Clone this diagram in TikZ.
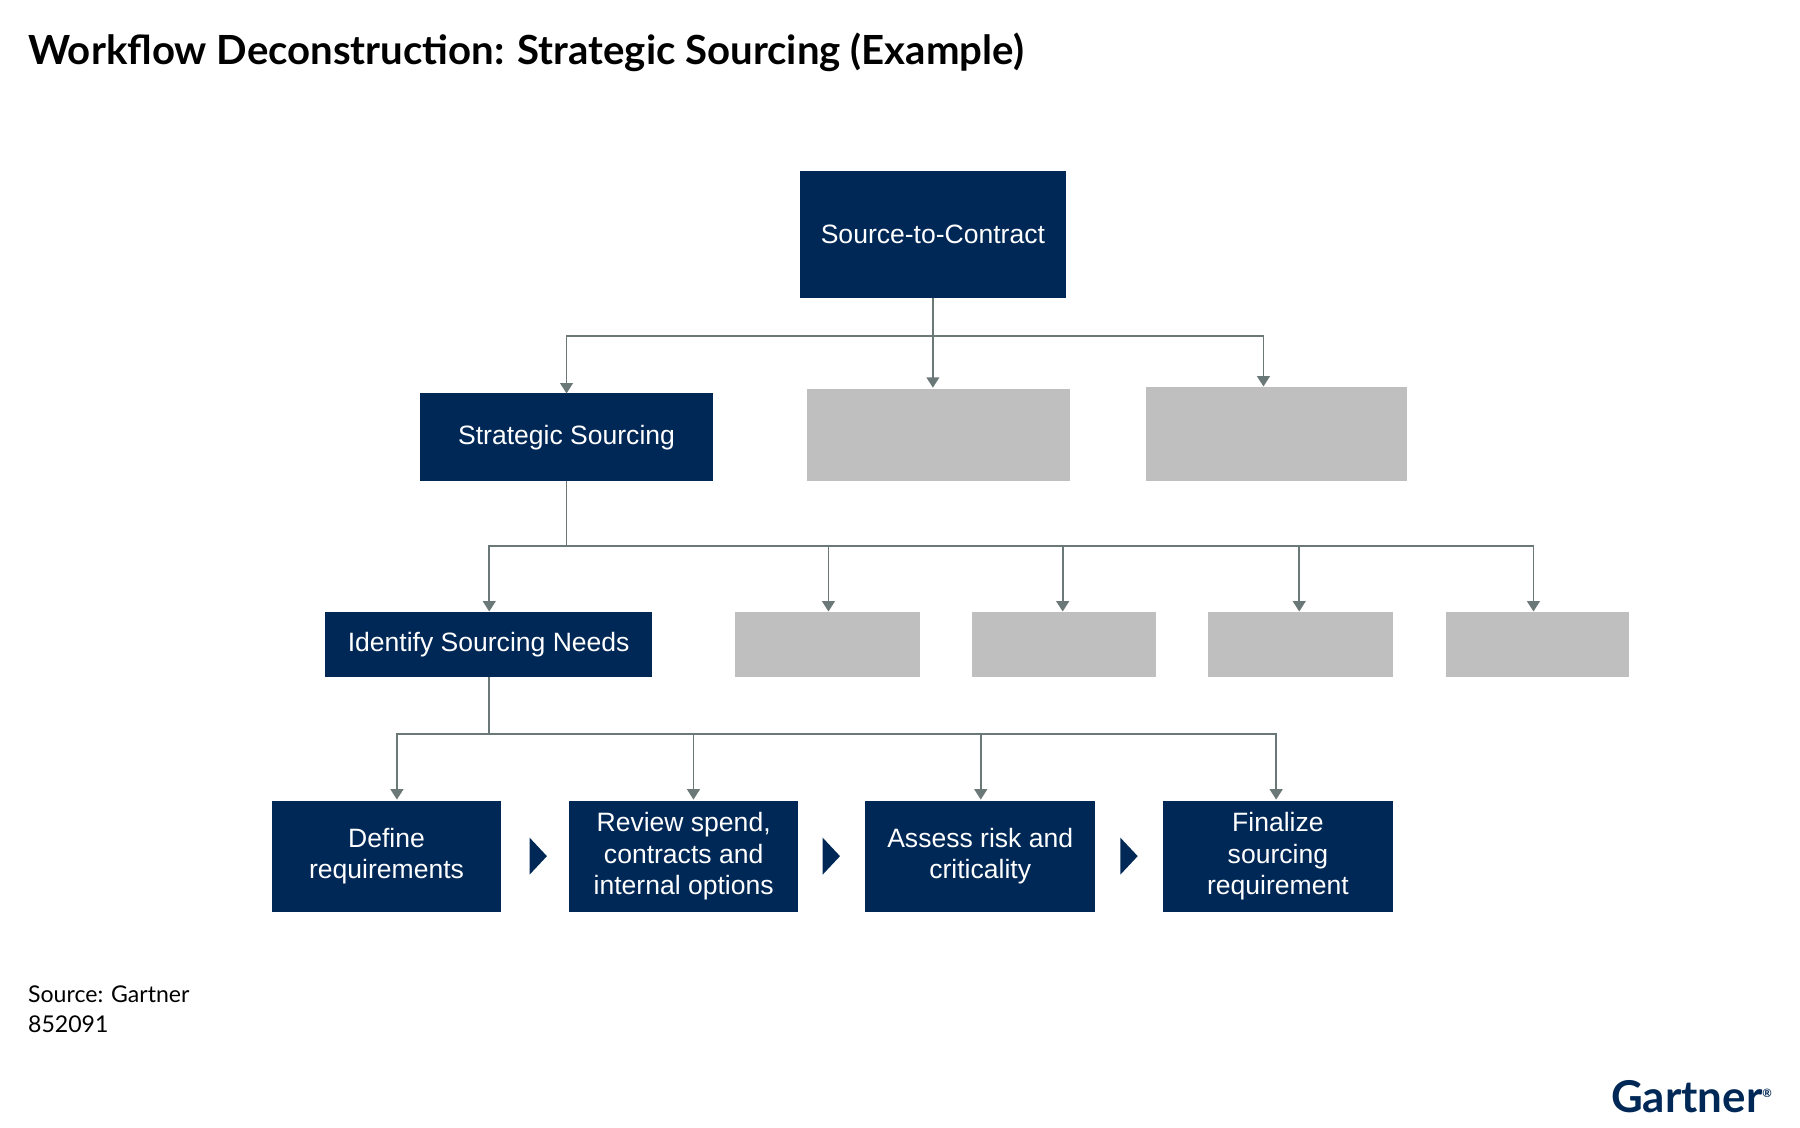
\documentclass[tikz,border=0pt]{standalone}
\usepackage{fontspec}
\setmainfont{Liberation Sans}
\newfontfamily\gfont{Lato}
\usetikzlibrary{arrows.meta}
\definecolor{navy}{HTML}{002856}
\definecolor{lgray}{HTML}{BFBFBF}
\definecolor{lnk}{HTML}{6B7878}
\begin{document}
\begin{tikzpicture}[x=0.5pt,y=-0.5pt,
  nb/.style={fill=navy,draw=none,text=white,align=center,font=\fontsize{11.5}{13.5}\selectfont,inner sep=0},
  gb/.style={fill=lgray,draw=none},
  ln/.style={draw=lnk,line width=0.8pt},
  ar/.style={ln,-{Triangle[width=5.5pt,length=4.5pt]}},
  tri/.style={fill=navy,draw=none}]
\useasboundingbox (0,0) rectangle (1560,977.6);
\node[anchor=west,inner sep=0,font=\gfont\bfseries\fontsize{17.4}{20}\selectfont] (title) at (24,45) {Workflow Deconstruction: Strategic Sourcing (Example)};
% level 1
\path[nb] (693,148) rectangle (924,258);
\node[nb] (top) at (808.5,203) {Source-to-Contract};
\coordinate (topb) at (808.5,258);
% level 2
\path[nb] (364,341) rectangle (618,417);
\node[nb] (ss) at (491,379) {Strategic Sourcing};
\path[gb] (699,337) rectangle (927,417); \coordinate (g1) at (808.5,336);
\path[gb] (993,335) rectangle (1219,417); \coordinate (g2) at (1095,335);
\coordinate (ssT) at (491,341);
\coordinate (j1) at (808.5,291);
\draw[ln] (topb) -- (j1);
\draw[ar] (j1) -| (ssT);
\draw[ar] (j1) -- (g1);
\draw[ar] (j1) -| (g2);
% level 3
\path[nb] (282,530) rectangle (565,587);
\node[nb] (isn) at (423.5,559) {Identify Sourcing Needs};
\foreach \a/\b in {637/797,842/1002,1047/1207,1253/1412}{
  \path[gb] (\a,530) rectangle (\b,587);}
\coordinate (ssb) at (491,417);
\coordinate (j2) at (491,473);
\draw[ln] (ssb) -- (j2);
\draw[ar] (j2) -| (424,530);
\foreach \x in {718,921,1126,1329}{\draw[ar] (j2) -| (\x,530);}
% level 4
\path[nb] (236,694) rectangle (434,790);
\node[nb] (d1) at (335,742) {Define\\requirements};
\path[nb] (493,694) rectangle (692,790);
\node[nb] (d2) at (592.5,742) {Review spend,\\contracts and\\internal options};
\path[nb] (750,694) rectangle (949,790);
\node[nb] (d3) at (849.5,742) {Assess risk and\\criticality};
\path[nb] (1008,694) rectangle (1207,790);
\node[nb] (d4) at (1107.5,742) {Finalize\\sourcing\\requirement};
\coordinate (isnb) at (423.5,587);
\coordinate (j3) at (423.5,636);
\draw[ln] (isnb) -- (j3);
\foreach \x in {344,601,850,1106}{\draw[ar] (j3) -| (\x,693);}
\foreach \x in {459,713,971}{\path[tri] (\x,726) -- (\x+15,742) -- (\x,758) -- cycle;}
% footer
\node[anchor=west,inner sep=0,font=\gfont\fontsize{10}{12}\selectfont] (src) at (24,862) {Source: Gartner};
\node[anchor=west,inner sep=0,font=\gfont\fontsize{10}{12}\selectfont] (num) at (24,888) {852091};
\node[anchor=east,inner sep=0,text=navy,font=\gfont\bfseries\fontsize{19}{22}\selectfont] (logo) at (1537,950) {Gartner\textsuperscript{\tiny\textregistered}};
\end{tikzpicture}
\end{document}
